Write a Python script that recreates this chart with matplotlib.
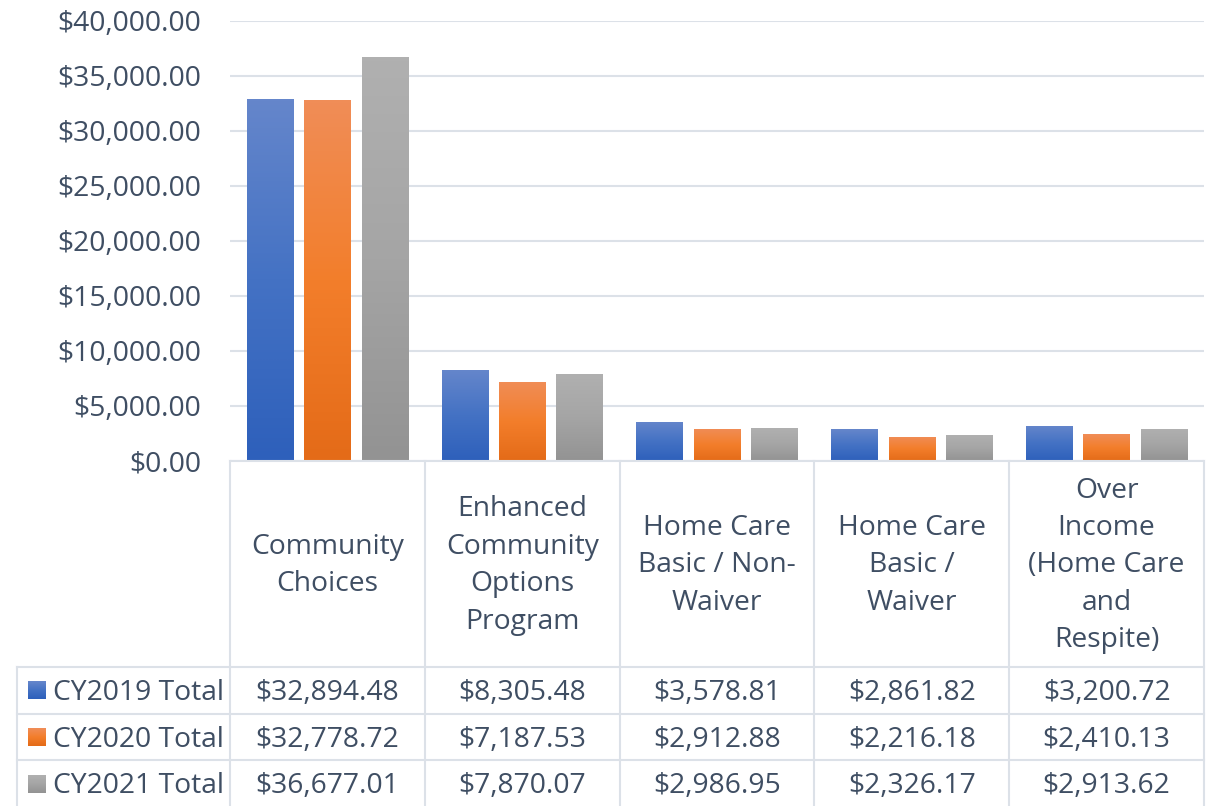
import numpy as np
import matplotlib.pyplot as plt
from matplotlib.colors import LinearSegmentedColormap

categories = ["Community\nChoices", "Enhanced\nCommunity\nOptions\nProgram",
              "Home Care\nBasic / Non-\nWaiver", "Home Care\nBasic /\nWaiver",
              "Over\nIncome\n(Home Care\nand\nRespite)"]
series_names = ["CY2019 Total", "CY2020 Total", "CY2021 Total"]
cy2019 = [32894.48, 8305.48, 3578.81, 2861.82, 3200.72]
cy2020 = [32778.72, 7187.53, 2912.88, 2216.18, 2410.13]
cy2021 = [36677.01, 7870.07, 2986.95, 2326.17, 2913.62]
yticks = [0, 5000, 10000, 15000, 20000, 25000, 30000, 35000, 40000]

# gradient colours top -> middle -> bottom, like the Excel fill
grads = [["#6586CB", "#4472C4", "#2E60BB"],
         ["#F08D57", "#F37E2B", "#E46B18"],
         ["#B0B0B0", "#A5A5A5", "#939393"]]

txt = "#3F4E63"
line_c = "#DCE1E8"
font = "Open Sans"
fs = 20.3

plt.rcParams['font.family'] = [font, 'DejaVu Sans']

W, H = 1216, 806
fig = plt.figure(figsize=(W / 100, H / 100), dpi=100)

px0, px1 = 230, 1204
py_top, py_zero = 20.5, 461
ax = fig.add_axes([px0 / W, (H - py_zero) / H, (px1 - px0) / W, (py_zero - py_top) / H])

x = np.arange(len(categories))
bw = 0.2385
step = 0.295
all_series = [cy2019, cy2020, cy2021]
for i, vals in enumerate(all_series):
    bars = ax.bar(x + (i - 1) * step, vals, width=bw, color=grads[i][1], zorder=2)
    cmap = LinearSegmentedColormap.from_list("g%d" % i, grads[i])
    grad = np.linspace(0, 1, 100).reshape(-1, 1)
    for b in bars:
        im = ax.imshow(grad, cmap=cmap, aspect='auto', origin='upper',
                       extent=(b.get_x(), b.get_x() + b.get_width(), 0, b.get_height()),
                       zorder=3, interpolation='bilinear')
        im.set_clip_path(b)

ax.set_xlim(-0.5, len(categories) - 0.5)
ax.set_ylim(0, 40000)
ax.set_yticks(yticks)
ax.set_yticklabels(["${:,.2f}".format(v) for v in yticks], fontsize=fs, color=txt)
ax.tick_params(axis='y', length=0, pad=21)
ax.set_xticks([])
for s in ax.spines.values():
    s.set_visible(False)
ax.grid(axis='y', color=line_c, linewidth=1.5, zorder=0)
ax.set_axisbelow(True)

# data table underneath, drawn in pixel coordinates
tb = fig.add_axes([0, 0, 1, 1], zorder=5)
tb.set_xlim(0, W)
tb.set_ylim(H, 0)
tb.axis('off')
tb.patch.set_alpha(0)

ncol = len(categories)
edges = [px0 + k * (px1 - px0) / ncol for k in range(ncol + 1)]
cat_bottom = 667
row_h = 46.7
rows_y = [cat_bottom + k * row_h for k in range(len(series_names) + 1)]
leg_left = 17

lw = 1.5
tb.plot([px0, px1], [py_zero, py_zero], color=line_c, lw=lw)
for e in edges:
    tb.plot([e, e], [py_zero, H], color=line_c, lw=lw)
tb.plot([leg_left, leg_left], [cat_bottom, H], color=line_c, lw=lw)
for ry in rows_y:
    tb.plot([leg_left, px1], [ry, ry], color=line_c, lw=lw)

for k, lab in enumerate(categories):
    cx = (edges[k] + edges[k + 1]) / 2
    tb.text(cx, (py_zero + cat_bottom) / 2 + 1.5, lab, ha='center', va='center',
            fontsize=fs, color=txt, linespacing=1.45, multialignment='center')

for r, (name, vals) in enumerate(zip(series_names, all_series)):
    cy = (rows_y[r] + rows_y[r + 1]) / 2
    cmap = LinearSegmentedColormap.from_list("l%d" % r, grads[r])
    grad = np.linspace(0, 1, 20).reshape(-1, 1)
    tb.imshow(grad, cmap=cmap, aspect='auto', origin='upper',
              extent=(28, 46, cy + 9, cy - 9), interpolation='bilinear')
    ty = cy + 2.5
    tb.text(53, ty, name, ha='left', va='center', fontsize=fs, color=txt)
    for k, v in enumerate(vals):
        cx = (edges[k] + edges[k + 1]) / 2
        tb.text(cx, ty, "${:,.2f}".format(v), ha='center', va='center', fontsize=fs, color=txt)

tb.set_xlim(0, W)
tb.set_ylim(H, 0)

fig.savefig("out.png", dpi=100)
